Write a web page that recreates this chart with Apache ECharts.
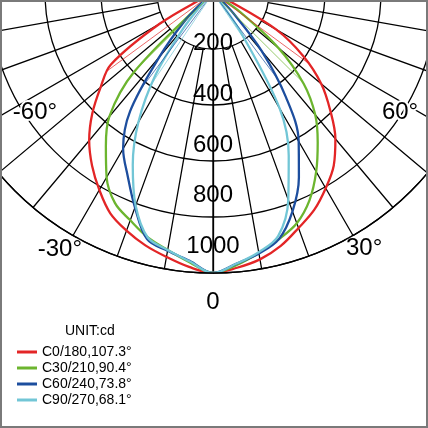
<!DOCTYPE html>
<html><head><meta charset="utf-8">
<script src="https://cdn.jsdelivr.net/npm/echarts@6/dist/echarts.min.js"></script>
<style>html,body{margin:0;padding:0;background:#fff}#c{width:428px;height:428px}</style>
</head><body><div id="c"></div>
<script>
// photometric angles (deg), negative = left side
const angles = [-90,-85,-80,-75,-70,-65,-60,-55,-50,-45,-40,-35,-30,-25,-20,-15,-10,-5,0,5,10,15,20,25,30,35,40,45,50,55,60,65,70,75,80,85,90];
const seriesNames = ['C0/180,107.3°','C30/210,90.4°','C60/240,73.8°','C90/270,68.1°'];
const beamAngles = [107.3, 90.4, 73.8, 68.1];
// intensities (cd)
const c0  = [0,0,0,0,5,25,220,445,524,610,688,753,812,868,903,933,957,982,1000,985,966,935,893,855,805,752,680,592,505,395,260,50,5,0,0,0,0];
const c30 = [0,0,0,0,0,0,0,5,35,398,576,667,760,828,864,903,932,965,1000,975,943,910,875,816,737,652,568,458,305,120,5,0,0,0,0,0,0];
const c60 = [0,0,0,0,0,0,0,5,40,150,297,517,642,721,815,910,935,960,1000,970,945,910,830,726,612,454,270,105,30,3,0,0,0,0,0,0,0];
const c90 = [0,0,0,0,0,0,0,0,10,50,165,358,533,678,808,903,932,962,1000,970,940,899,786,640,476,180,40,5,0,0,0,0,0,0,0,0,0];
const ringTicks = [200,400,600,800,1000];
const angleTickValues = [-60,-30,0,30,60];
const angleTickText = ['-60°','-30°','0','30°','60°'];

const curves = [c0, c30, c60, c90];
const colors = ['#e32526','#6cb52f','#1d4e9e','#72c6d6'];
const FONT = '"Liberation Sans", Arial, sans-serif';
const C = [213, -7], R = 280;
const toA = a => (a < 0 ? a + 360 : a);
function valueAt(vals, a) {
  for (let j = 0; j < angles.length - 1; j++) {
    if (a >= angles[j] && a <= angles[j + 1]) {
      const t = (a - angles[j]) / (angles[j + 1] - angles[j]);
      return vals[j] + t * (vals[j + 1] - vals[j]);
    }
  }
  return 0;
}

const angleLabelMap = {};
angleTickValues.forEach((v, i) => { angleLabelMap[toA(v)] = angleTickText[i]; });
const richKey = {0: 'z', 30: 'p30', 60: 'p60', 300: 'm60', 330: 'm30'};
const baseRich = {fontSize: 24, lineHeight: 24, fontFamily: FONT, color: '#000', textBorderColor: '#fff', textBorderWidth: 4};
const rich = {
  z:   Object.assign({}, baseRich, {padding: [235, 0, 0, 0]}),
  p30: Object.assign({}, baseRich, {padding: [174, 0, 0, 43]}),
  p60: Object.assign({}, baseRich, {padding: [35, 0, 0, 13]}),
  m60: Object.assign({}, baseRich, {padding: [35, 0, 0, 0]}),
  m30: Object.assign({}, baseRich, {padding: [177, 41, 0, 0]})
};

const gridLine = {color: '#000', width: 1.3};
const series = curves.map((vals, i) => ({
  type: 'line', name: seriesNames[i], coordinateSystem: 'polar', polarIndex: 0,
  data: angles.map((a, j) => [vals[j], toA(a)]),
  symbol: 'none', smooth: 0.35, clip: false, z: 3,
  lineStyle: {color: colors[i], width: 2.3}, itemStyle: {color: colors[i]}
}));
curves.forEach((vals, i) => {
  const h = beamAngles[i] / 2;
  series.push({
    type: 'line', name: 'beam' + i, coordinateSystem: 'polar', polarIndex: 0,
    data: [[valueAt(vals, -h), toA(-h)], [0, 0], [valueAt(vals, h), h]],
    symbol: 'none', clip: false, z: 3,
    lineStyle: {color: colors[i], width: 0.7}, itemStyle: {color: colors[i]}
  });
});

const hidden = {axisLine: {show: false}, axisTick: {show: false}, axisLabel: {show: false}, splitLine: {show: false}};
const chart = echarts.init(document.getElementById('c'));
chart.setOption({
  backgroundColor: '#fff',
  animation: false,
  title: {text: 'UNIT:cd', left: 65, top: 323, padding: 0,
    textStyle: {fontSize: 14, fontWeight: 'normal', fontFamily: FONT, color: '#000', lineHeight: 16}},
  legend: {orient: 'vertical', left: 17, top: 344, padding: 0, data: seriesNames, icon: 'rect',
    itemWidth: 20, itemHeight: 3, itemGap: 0, selectedMode: false,
    textStyle: {fontSize: 14, lineHeight: 16, fontFamily: FONT, color: '#000'}},
  polar: [
    {center: C, radius: R},
    {center: C, radius: [R * 0.2, R]},
    {center: C, radius: R * 0.905}
  ],
  angleAxis: [
    {polarIndex: 0, type: 'value', min: 0, max: 360, interval: 30, startAngle: 270, clockwise: false, z: 4,
      axisLine: {show: true, lineStyle: gridLine}, axisTick: {show: false}, splitLine: {show: false},
      axisLabel: {show: true, margin: -100,
        formatter: v => (angleLabelMap[v] !== undefined && v !== 360) ? '{' + richKey[v] + '|' + angleLabelMap[v] + '}' : '',
        rich: rich}},
    {polarIndex: 1, type: 'value', min: 0, max: 360, interval: 10, startAngle: 270, clockwise: false, z: 0,
      axisLine: {show: false}, axisTick: {show: false}, axisLabel: {show: false},
      splitLine: {show: true, lineStyle: gridLine}},
    Object.assign({polarIndex: 2, type: 'value', min: 0, max: 360, interval: 30, startAngle: 270, clockwise: false}, hidden)
  ],
  radiusAxis: [
    {polarIndex: 0, type: 'value', min: 0, max: 1000, interval: 200, z: 2,
      axisLine: {show: true, lineStyle: gridLine}, axisTick: {show: false}, axisLabel: {show: false}, splitLine: {show: false}},
    {polarIndex: 1, type: 'value', min: ringTicks[0], max: ringTicks[ringTicks.length - 1], interval: 200, z: 0,
      axisLine: {show: false}, axisTick: {show: false}, axisLabel: {show: false},
      splitLine: {show: true, lineStyle: gridLine}},
    {polarIndex: 2, type: 'value', min: 0, max: 1000, interval: 200, z: 5,
      axisLine: {show: false}, axisTick: {show: false}, splitLine: {show: false},
      axisLabel: {show: true, margin: 0, align: 'center', verticalAlign: 'middle', fontSize: 24,
        color: '#000', fontFamily: FONT, formatter: v => (ringTicks.indexOf(v) >= 0 ? String(v) : '')}}
  ],
  graphic: [{type: 'rect', silent: true, z: 100, shape: {x: 1, y: 1, width: 426, height: 426},
    style: {fill: 'none', stroke: '#7a7a7a', lineWidth: 2}}],
  series: series
});
</script></body></html>
